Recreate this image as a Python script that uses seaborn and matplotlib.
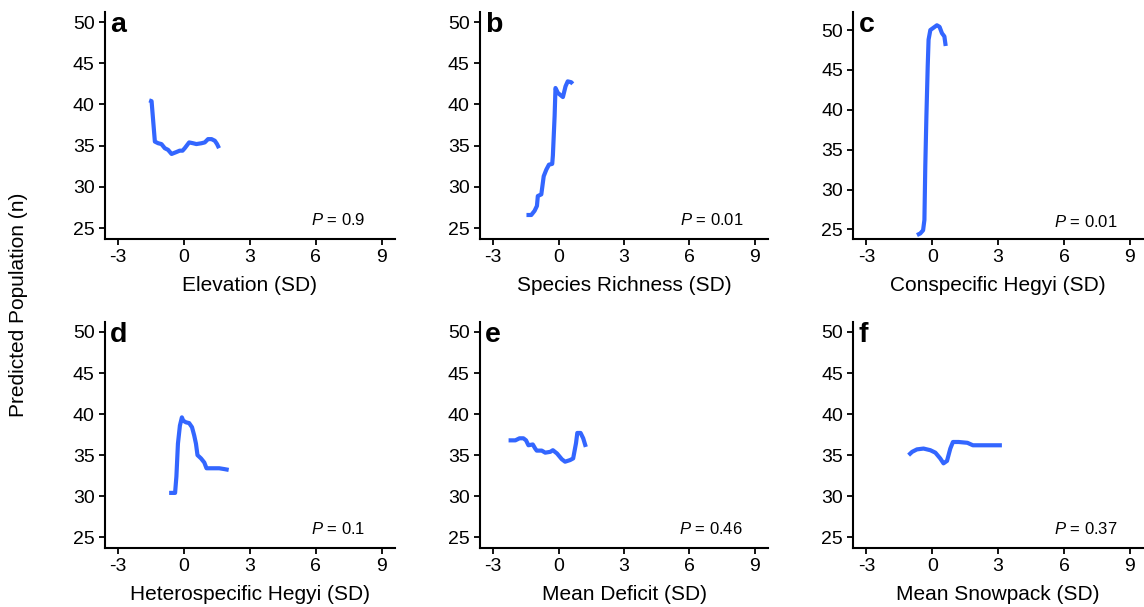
import matplotlib
matplotlib.use("Agg")
import matplotlib.pyplot as plt
import seaborn as sns
import pandas as pd

# ---------------- data ----------------
panel_letters = ["a", "b", "c", "d", "e", "f"]
x_labels = ["Elevation (SD)", "Species Richness (SD)", "Conspecific Hegyi (SD)",
            "Heterospecific Hegyi (SD)", "Mean Deficit (SD)", "Mean Snowpack (SD)"]
p_values = ["0.9", "0.01", "0.01", "0.1", "0.46", "0.37"]
x_ticks = [-3, 0, 3, 6, 9]
y_ticks = [25, 30, 35, 40, 45, 50]
y_label = "Predicted Population (n)"

elev_x = [-1.59, -1.48, -1.33, -1.18, -1.03, -0.88, -0.73, -0.57, -0.38, -0.20, -0.07, 0.03,
          0.23, 0.41, 0.56, 0.79, 0.94, 1.09, 1.25, 1.40, 1.50, 1.59]
elev_y = [40.5, 40.4, 35.5, 35.3, 35.2, 34.7, 34.5, 34.0, 34.2, 34.4, 34.4, 34.7,
          35.4, 35.3, 35.2, 35.3, 35.4, 35.8, 35.8, 35.6, 35.2, 34.7]

rich_x = [-1.47, -1.25, -1.10, -0.99, -0.95, -0.79, -0.74, -0.68, -0.56, -0.44, -0.29, -0.26,
          -0.18, -0.14, -0.03, 0.20, 0.32, 0.42, 0.58, 0.65]
rich_y = [26.6, 26.6, 27.1, 27.7, 28.9, 29.1, 30.1, 31.3, 32.1, 32.7, 32.8, 33.8,
          38.6, 42.0, 41.4, 40.9, 42.2, 42.8, 42.7, 42.5]

cons_x = [-0.70, -0.55, -0.42, -0.36, -0.32, -0.27, -0.21, -0.17, -0.09, 0.06, 0.21, 0.33,
          0.44, 0.55, 0.61]
cons_y = [24.3, 24.5, 24.9, 26.2, 32.9, 39.1, 45.4, 48.8, 50.0, 50.3, 50.6, 50.4,
          49.6, 49.2, 48.0]

hete_x = [-0.68, -0.41, -0.35, -0.28, -0.19, -0.10, -0.04, 0.08, 0.23, 0.36, 0.46, 0.54,
          0.61, 0.77, 0.92, 1.02, 1.30, 1.60, 1.83, 2.03]
hete_y = [30.4, 30.4, 32.4, 36.4, 38.6, 39.6, 39.2, 39.0, 38.9, 38.4, 37.4, 36.4,
          35.0, 34.6, 34.1, 33.4, 33.4, 33.4, 33.3, 33.2]

defi_x = [-2.29, -1.98, -1.79, -1.61, -1.49, -1.38, -1.18, -1.07, -1.00, -0.77, -0.61, -0.38,
          -0.26, -0.07, 0.15, 0.30, 0.53, 0.67, 0.80, 0.86, 1.01, 1.13, 1.25]
defi_y = [36.8, 36.8, 37.05, 37.05, 36.8, 36.2, 36.3, 35.8, 35.55, 35.55, 35.3, 35.4,
          35.6, 35.2, 34.5, 34.2, 34.4, 34.6, 36.45, 37.7, 37.7, 37.05, 36.0]

snow_x = [-1.08, -0.92, -0.70, -0.40, -0.09, 0.14, 0.36, 0.51, 0.67, 0.82, 0.94, 1.20,
          1.60, 1.85, 2.18, 2.64, 3.17]
snow_y = [35.0, 35.4, 35.7, 35.8, 35.6, 35.3, 34.6, 34.0, 34.3, 35.8, 36.6, 36.6,
          36.5, 36.2, 36.2, 36.2, 36.2]

series_x = [elev_x, rich_x, cons_x, hete_x, defi_x, snow_x]
series_y = [elev_y, rich_y, cons_y, hete_y, defi_y, snow_y]

# ---------------- style ----------------
sns.set_style("ticks")
plt.rcParams["font.family"] = ["Liberation Sans", "DejaVu Sans"]
plt.rcParams["mathtext.fontset"] = "custom"
plt.rcParams["mathtext.it"] = "Liberation Sans:italic"
plt.rcParams["mathtext.rm"] = "Liberation Sans"
plt.rcParams["text.color"] = "black"
plt.rcParams["axes.labelcolor"] = "black"
plt.rcParams["xtick.color"] = "black"
plt.rcParams["ytick.color"] = "black"

W, H = 1144, 607
fig = plt.figure(figsize=(W / 100, H / 100), dpi=100)

lefts = [105, 480, 853.3]
widths = [290, 288, 289.7]
tops = [11.7, 321.7]
bottoms = [238.5, 547.5]
ylims = [(23.75, 51.25), (23.75, 51.25), (23.87, 52.3),
         (23.75, 51.25), (23.75, 51.25), (23.75, 51.25)]

line_color = "#3366FF"

for i in range(6):
    r, c = divmod(i, 3)
    rect = [lefts[c] / W, 1 - bottoms[r] / H, widths[c] / W, (bottoms[r] - tops[r]) / H]
    ax = fig.add_axes(rect)
    df = pd.DataFrame({"x": series_x[i], "y": series_y[i]})
    sns.lineplot(data=df, x="x", y="y", ax=ax, color=line_color, linewidth=3.0,
                 sort=False, estimator=None, solid_capstyle="butt")
    ax.set_xlim(-3.6, 9.6)
    ax.set_ylim(*ylims[i])
    ax.set_xticks(x_ticks)
    ax.set_xticklabels([str(t) for t in x_ticks])
    ax.set_yticks(y_ticks)
    ax.set_yticklabels([str(t) for t in y_ticks])
    for s in ["top", "right"]:
        ax.spines[s].set_visible(False)
    for s in ["left", "bottom"]:
        ax.spines[s].set_linewidth(1.5)
        ax.spines[s].set_color("black")
    ax.tick_params(axis="both", length=4.3, width=1.3, color="black",
                   labelsize=14, labelcolor="black", pad=3)
    ax.tick_params(axis="x", pad=3.5)
    ax.set_xlabel(x_labels[i], fontsize=15, labelpad=7, color="black")
    ax.set_ylabel("")
    ax.text(0.018, 1.0, panel_letters[i], transform=ax.transAxes, ha="left", va="top",
            fontsize=20.5, fontweight="bold", color="black")
    ax.text(7, 26, "$P$ = " + p_values[i], ha="center", va="center", fontsize=12,
            color="black")

fig.text(19 / W, 1 - 305 / H, y_label, rotation=90, ha="center", va="center",
         fontsize=15, color="black")

fig.savefig("out.png", dpi=100)
